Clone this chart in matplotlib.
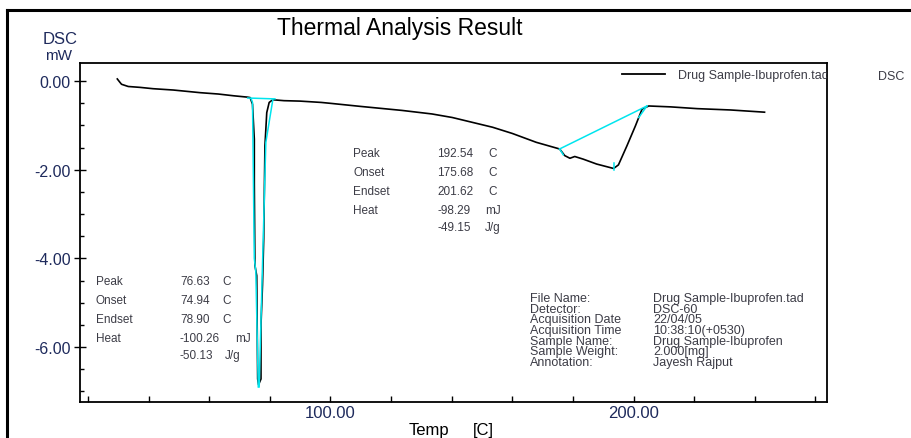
import matplotlib
matplotlib.use("Agg")
import matplotlib.pyplot as plt
from matplotlib.ticker import FixedLocator, MultipleLocator, NullFormatter
from matplotlib.lines import Line2D

plt.rcParams['font.family'] = ['Liberation Sans', 'DejaVu Sans']

# DSC curve (Temp in C, DSC in mW)
temp = [29.7, 30.5, 31.1, 33.3, 37.2, 41.5, 48.2, 57.1, 63.0, 68.1, 72.6, 73.5,
        74.3, 74.9, 74.9, 75.1, 75.7, 76.0, 76.3, 77.1, 77.1, 77.6, 78.0, 78.4,
        79.0, 79.8, 81.0, 84.7, 90.0, 97.0, 100.0, 110.0, 123.6, 133.5, 140.2,
        153.5, 160.0, 167.9, 175.6, 177.3, 179.0, 180.6, 183.4, 187.8, 193.4,
        195.0, 197.8, 200.6, 202.8, 205.0, 212.2, 221.0, 232.0, 241.0, 243.2]
dsc = [0.05, -0.02, -0.07, -0.12, -0.14, -0.17, -0.20, -0.26, -0.29, -0.33, -0.36, -0.37,
       -0.52, -1.31, -2.30, -4.16, -4.39, -6.72, -6.85, -6.72, -5.50, -4.60, -3.56, -1.46,
       -0.71, -0.48, -0.42, -0.44, -0.45, -0.48, -0.50, -0.57, -0.66, -0.74, -0.82,
       -1.04, -1.18, -1.38, -1.53, -1.68, -1.74, -1.70, -1.76, -1.87, -1.97,
       -1.89, -1.46, -1.01, -0.63, -0.56, -0.58, -0.62, -0.65, -0.69, -0.70]

# analysis construction lines (cyan)
base1_t = [72.7, 81.7]
base1_v = [-0.38, -0.40]
left1_t = [73.8, 74.3, 74.9, 75.4, 76.2]
left1_v = [-0.39, -0.48, -4.0, -4.3, -6.9]
right1_t = [81.0, 78.7, 76.5]
right1_v = [-0.42, -1.38, -6.9]
base2_t = [175.6, 204.4]
base2_v = [-1.53, -0.56]
tang2_t = [204.4, 201.7]
tang2_v = [-0.56, -0.82]
onset2_t = [175.6, 176.8]
onset2_v = [-1.53, -1.66]
peak2_t = [193.4, 193.4]
peak2_v = [-1.85, -2.00]

peak1_info = [("Peak", "76.63", "C"), ("Onset", "74.94", "C"),
              ("Endset", "78.90", "C"), ("Heat", "-100.26", "mJ"), ("", "-50.13", "J/g")]
peak2_info = [("Peak", "192.54", "C"), ("Onset", "175.68", "C"),
              ("Endset", "201.62", "C"), ("Heat", "-98.29", "mJ"), ("", "-49.15", "J/g")]
file_keys = ["File Name:", "Detector:", "Acquisition Date", "Acquisition Time",
             "Sample Name:", "Sample Weight:", "Annotation:"]
file_vals = ["Drug Sample-Ibuprofen.tad", "DSC-60", "22/04/05", "10:38:10(+0530)",
             "Drug Sample-Ibuprofen", "2.000[mg]", "Jayesh Rajput"]

W, H = 911, 439
fig = plt.figure(figsize=(W / 100, H / 100), dpi=100)


def px(x, y):
    return x / W, 1 - y / H


txt_col = "#3c3c46"
lab_col = "#1e2a5c"
small = 8.5

# outer frame (top and left only visible)
fig.add_artist(Line2D([7 / W, 1], [1 - 11 / H] * 2, color="black", lw=2.2, transform=fig.transFigure))
fig.add_artist(Line2D([7 / W] * 2, [1 - 11 / H, 0], color="black", lw=2.2, transform=fig.transFigure))

ax = fig.add_axes([80 / W, 1 - 403 / H, (827 - 80) / W, (403 - 64) / H])
ax.plot(temp, dsc, color="black", lw=1.2)
for t, v in [(base1_t, base1_v), (left1_t, left1_v), (right1_t, right1_v),
             (base2_t, base2_v), (tang2_t, tang2_v), (onset2_t, onset2_v), (peak2_t, peak2_v)]:
    ax.plot(t, v, color="#00e5ee", lw=1.1)

ax.set_xlim(17.4, 263.8)
ax.set_ylim(-7.24, 0.41)
ax.xaxis.set_major_locator(FixedLocator([100, 200]))
ax.xaxis.set_minor_locator(FixedLocator([20, 40, 60, 80, 120, 140, 160, 180, 220, 240, 260]))
ax.set_xticklabels(["100.00", "200.00"])
ax.yaxis.set_major_locator(FixedLocator([0, -2, -4, -6]))
ax.yaxis.set_minor_locator(MultipleLocator(0.5))
ax.set_yticklabels(["0.00", "-2.00", "-4.00", "-6.00"])
ax.xaxis.set_minor_formatter(NullFormatter())
ax.tick_params(axis="x", which="both", direction="in", length=4, width=1,
               labelsize=12, labelcolor=lab_col, pad=2)
ax.tick_params(axis="y", which="major", direction="inout", length=9, width=1,
               labelsize=11.5, labelcolor=lab_col, pad=2)
ax.tick_params(axis="y", which="minor", direction="in", length=3, width=1)
for s in ax.spines.values():
    s.set_linewidth(1.3)

# legend
fig.add_artist(Line2D([622 / W, 665 / W], [1 - 75 / H] * 2, color="black", lw=1.3, transform=fig.transFigure))
t = fig.text(*px(678, 76), "Drug Sample-Ibuprofen.tad", fontsize=9, color=txt_col, va="center")
t.set_clip_path(ax.patch)
fig.text(*px(878, 77), "DSC", fontsize=9, color=txt_col, va="center")

# titles and labels
fig.text(*px(400, 28), "Thermal Analysis Result", fontsize=16.5, color="black", ha="center", va="center")
fig.text(*px(60, 39), "DSC", fontsize=12, color=lab_col, ha="center", va="center")
fig.text(*px(59, 56), "mW", fontsize=11, color=lab_col, ha="center", va="center")
fig.text(*px(429, 431), "Temp", fontsize=12, color="black", ha="center", va="center")
fig.text(*px(483, 431), "[C]", fontsize=12, color="black", ha="center", va="center")

# peak result blocks
rows1 = [282, 301, 320, 339, 356]
for (k, v, u), y in zip(peak1_info, rows1):
    fig.text(*px(96, y), k, fontsize=small, color=txt_col, va="center")
    fig.text(*px(180, y), v, fontsize=small, color=txt_col, va="center")
    ux = {"C": 222, "mJ": 235, "J/g": 225}[u]
    fig.text(*px(ux, y), u, fontsize=small, color=txt_col, va="center")

rows2 = [154, 173, 192, 211, 228]
for (k, v, u), y in zip(peak2_info, rows2):
    fig.text(*px(353, y), k, fontsize=small, color=txt_col, va="center")
    fig.text(*px(437, y), v, fontsize=small, color=txt_col, va="center")
    ux = {"C": 488, "mJ": 485, "J/g": 485}[u]
    fig.text(*px(ux, y), u, fontsize=small, color=txt_col, va="center")

# file info block
for i, (k, v) in enumerate(zip(file_keys, file_vals)):
    y = 299 + i * 10.7
    fig.text(*px(530, y), k, fontsize=9, color=txt_col, va="center")
    fig.text(*px(653, y), v, fontsize=9, color=txt_col, va="center")

fig.savefig("out.png", dpi=100)
